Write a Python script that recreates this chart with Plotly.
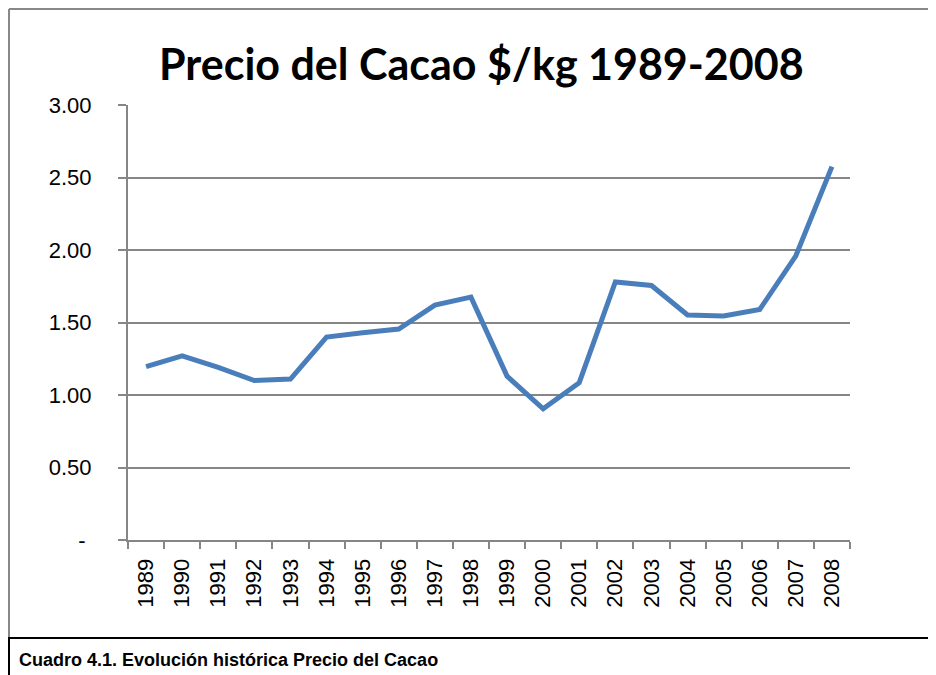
import plotly.graph_objects as go

years = [str(y) for y in range(1989, 2009)]
prices = [1.195, 1.27, 1.19, 1.10, 1.11, 1.40, 1.43, 1.455, 1.62, 1.675,
          1.13, 0.905, 1.085, 1.78, 1.755, 1.552, 1.545, 1.59, 1.96, 2.575]
y_tickvals = [0, 0.5, 1.0, 1.5, 2.0, 2.5, 3.0]
y_ticktext = ["-\u00a0", "0.50", "1.00", "1.50", "2.00", "2.50", "3.00"]
title_text = "Precio del Cacao $/kg 1989-2008"
caption_text = "Cuadro 4.1. Evolución histórica Precio del Cacao"

# page body has an 8px margin: work in page pixels, shift by OFF
OFF = 8
W, H = 936 - OFF, 675 - OFF
L, R, T, B = 128 - OFF, 850 - OFF, 105 - OFF, 540 - OFF


def px(x):
    return (x - OFF - L) / (R - L)


def py(y):
    return (B - (y - OFF)) / (B - T)


fig = go.Figure()
fig.add_trace(go.Scatter(
    x=years, y=prices, mode="lines",
    line=dict(color="#4a7ebb", width=5),
    hoverinfo="x+y",
))

shapes = [
    dict(type="line", xref="paper", yref="paper", x0=px(9), x1=px(940), y0=py(9), y1=py(9),
         line=dict(color="#888888", width=2)),
    dict(type="line", xref="paper", yref="paper", x0=px(9), x1=px(9), y0=py(9), y1=py(638),
         line=dict(color="#888888", width=2)),
    dict(type="line", xref="paper", yref="paper", x0=px(8), x1=px(940), y0=py(638), y1=py(638),
         line=dict(color="#000000", width=2)),
    dict(type="line", xref="paper", yref="paper", x0=px(9), x1=px(9), y0=py(638), y1=py(680),
         line=dict(color="#000000", width=2)),
]

annotations = [
    dict(text="<b>" + title_text + "</b>", xref="paper", yref="paper",
         x=px(481), y=py(64), xanchor="center", yanchor="middle", showarrow=False,
         font=dict(family="Lato, Open Sans, sans-serif", size=43, color="#000000")),
    dict(text="<b>" + caption_text + "</b>", xref="paper", yref="paper",
         x=px(17), y=py(660), xanchor="left", yanchor="middle", showarrow=False,
         font=dict(family="Liberation Sans, Arial, sans-serif", size=18, color="#000000")),
]

fig.update_layout(
    width=W, height=H,
    margin=dict(l=L, r=W - R, t=T, b=H - B, pad=0),
    paper_bgcolor="white", plot_bgcolor="white",
    showlegend=False,
    shapes=shapes,
    annotations=annotations,
    font=dict(family="Liberation Sans, Arial, sans-serif", size=22, color="#000000"),
)
fig.update_xaxes(
    type="category", range=[-0.5, 19.5],
    showline=True, linecolor="#868686", linewidth=2,
    ticks="outside", tickson="boundaries", ticklen=7, tickcolor="#868686", tickwidth=1.5,
    tickangle=-90, tickfont=dict(size=22), ticklabelstandoff=8,
    showgrid=False, zeroline=False,
)
fig.update_yaxes(
    range=[0, 3], tickvals=y_tickvals, ticktext=y_ticktext,
    showline=True, linecolor="#868686", linewidth=2,
    ticks="outside", ticklen=8, tickcolor="#868686", tickwidth=1.5,
    showgrid=True, gridcolor="#868686", gridwidth=1.5, zeroline=False,
    tickfont=dict(size=22), ticklabelstandoff=22,
)

fig.write_html("out.html")
